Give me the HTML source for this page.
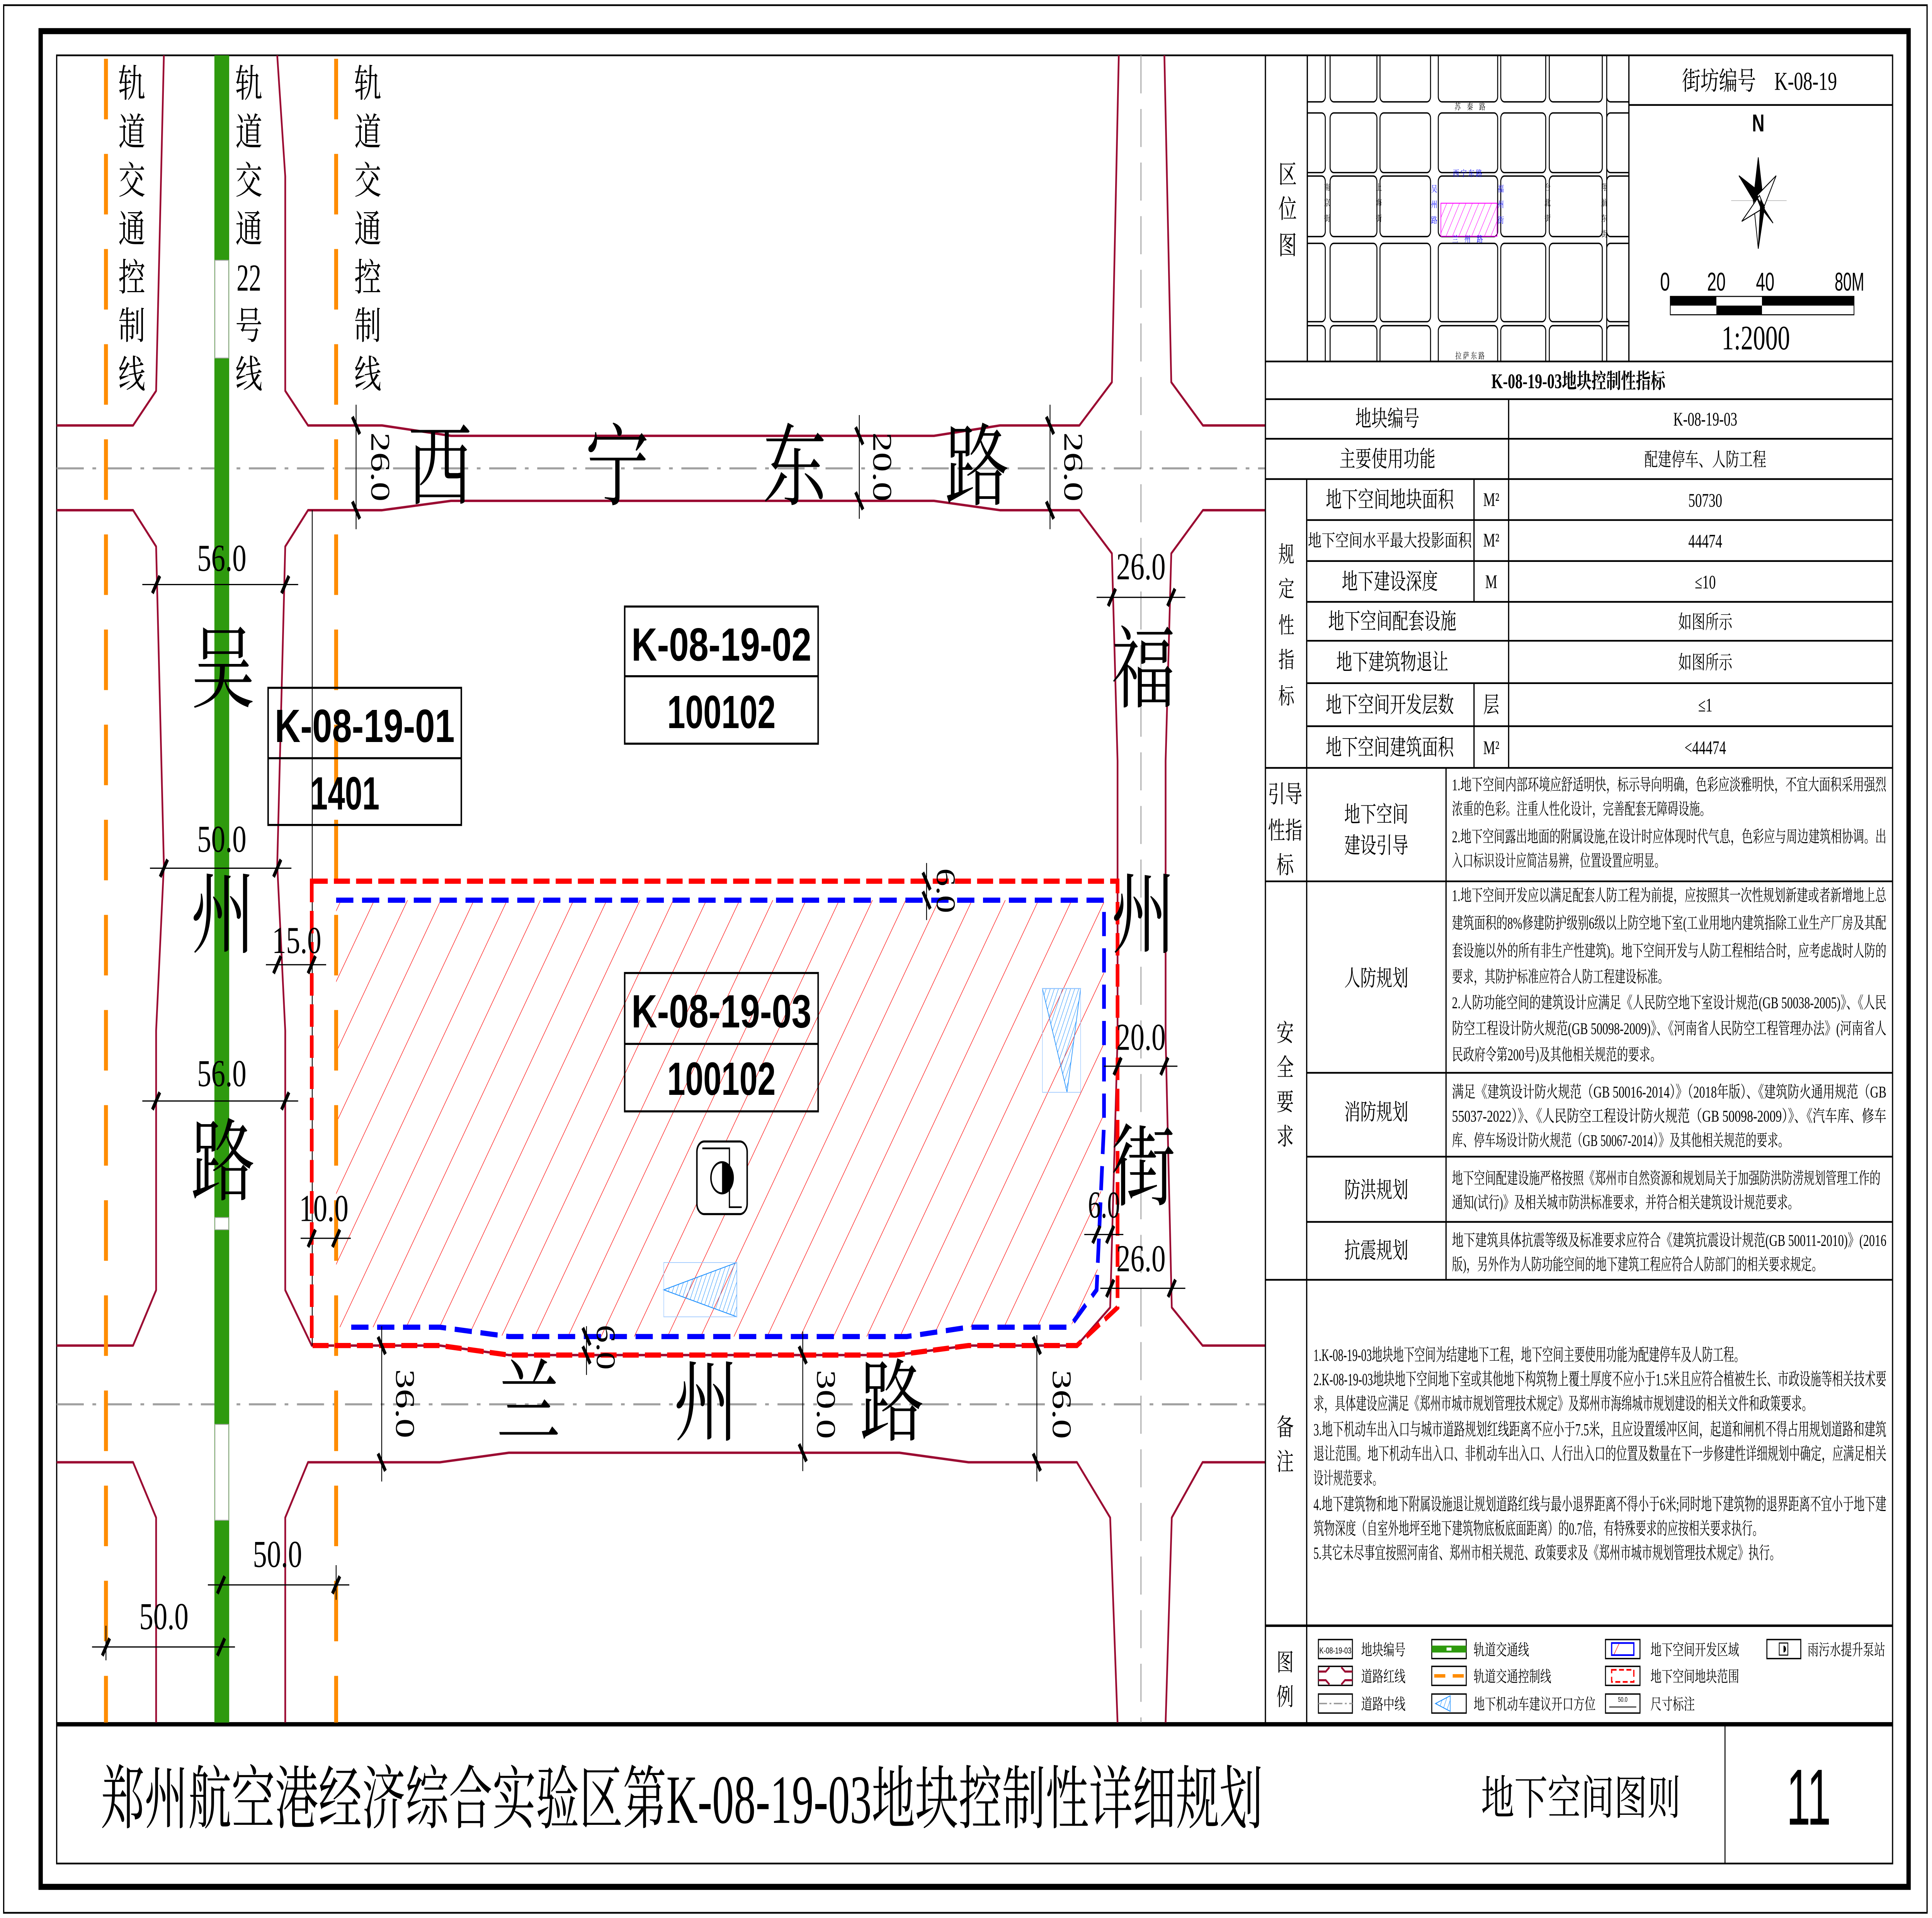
<!DOCTYPE html>
<html><head><meta charset="utf-8"><style>html,body{margin:0;padding:0;background:#fff;overflow:hidden;width:100vw;height:100vh}svg{display:block;width:100vw;height:100vh}
.s{font-family:"Liberation Serif","Noto Serif CJK SC",serif}
.n{font-family:"Liberation Sans","Noto Sans CJK SC",sans-serif}
</style></head><body>
<svg xmlns="http://www.w3.org/2000/svg" viewBox="0 0 1568 1109" preserveAspectRatio="none">
<defs>
<pattern id="hr" patternUnits="userSpaceOnUse" width="22.5" height="10" patternTransform="rotate(33.4)"><line x1="0" y1="0" x2="0" y2="10" stroke="#ff0000" stroke-width="0.7"/></pattern>
<pattern id="hb" patternUnits="userSpaceOnUse" width="3" height="10" patternTransform="rotate(25)"><line x1="0" y1="0" x2="0" y2="10" stroke="#1e90ff" stroke-width="0.6"/></pattern>
<pattern id="hm" patternUnits="userSpaceOnUse" width="4.5" height="10" patternTransform="rotate(30)"><line x1="0" y1="0" x2="0" y2="10" stroke="#ff00ff" stroke-width="0.6"/></pattern>
<clipPath id="cb"><path d="M272.8,520.5 L896,520.5 L896,650 L890,745.8 L868,767.4 L786,767.4 L736,772.8 L413,772.8 L357,767.4 L272.8,767.4 Z"/></clipPath>
<clipPath id="cm"><rect x="1061" y="32" width="261" height="177"/></clipPath>
</defs>
<rect width="1568" height="1109" fill="#fff"/>
<rect x="3" y="3" width="1561" height="1103" fill="none" stroke="#000" stroke-width="1"/>
<rect x="33" y="18" width="1516" height="1073" fill="none" stroke="#000" stroke-width="3.5"/>
<rect x="46" y="32" width="1490" height="1045.5" fill="none" stroke="#000" stroke-width="1"/>
<line x1="46" y1="997" x2="1536" y2="997" stroke="#000" stroke-width="2.5"/>
<line x1="1400" y1="997" x2="1400" y2="1077.5" stroke="#000" stroke-width="0.8"/>

<rect x="270" y="518" width="630" height="258" fill="url(#hr)" clip-path="url(#cb)"/>
<g stroke="#a0a0a0" stroke-width="1.2" fill="none" stroke-dasharray="22 7 3 7">
<line x1="46" y1="270.8" x2="1027" y2="270.8"/>
<line x1="46" y1="812" x2="1027" y2="812"/>
</g>
<line x1="926" y1="32" x2="926" y2="996" stroke="#a0a0a0" stroke-width="0.8" stroke-dasharray="22 9"/>
<g stroke="#9b0b32" stroke-width="1.4" fill="none" stroke-linejoin="round">
<polyline points="133,32 126.7,226 108,246 46,246"/>
<polyline points="225,32 231.5,102 231.5,226 250,246 310,246 366,252 758,252 811.6,246 876,246 902.4,221 908,32"/>
<polyline points="945,32 950.6,221 976.3,246 1027,246"/>
<polyline points="46,295 108,295 126.7,316 133,500 126.7,596 126.7,746 108,778 46,778"/>
<polygon points="250,295 310,295 366,289.6 758,289.6 811.6,295 876,295 902.4,320 907,440 907,600 901,756 874,778 786,778 727,783.5 413,783.5 357,778 253,778 231.5,746 231.5,596 225,500 231.5,316"/>
<polyline points="1027,295 976.3,295 950.6,320 946,440 946,600 951,756 976,778 1027,778"/>
<polyline points="46,845.5 108,845.5 126.7,877.5 126.7,996"/>
<polyline points="231.5,996 231.5,877.5 250,845.5 357,845.5 413,840 730,840 786,845.5 874,845.5 901,877.5 907,996"/>
<polyline points="1027,845.5 976,845.5 951,877.5 946,996"/>
</g>
<line x1="253.4" y1="295" x2="253.4" y2="778" stroke="#000" stroke-width="0.7"/>
<rect x="174" y="32" width="12" height="964" fill="#2e9a0e"/>
<g fill="#fff" stroke="#aaa" stroke-width="0.5">
<rect x="174.5" y="150.5" width="11" height="56.5"/>
<rect x="174.5" y="704" width="11" height="7"/>
<rect x="174.5" y="823.6" width="11" height="55.4"/>
</g>
<g stroke="#ff8c00" stroke-width="3.2" stroke-dasharray="35 20">
<line x1="86" y1="34" x2="86" y2="996"/>
<line x1="272.8" y1="34" x2="272.8" y2="996"/>
</g>
<path d="M253,509.5 L907,509.5 L907,756 L874,778 L786,778 L727,783.5 L413,783.5 L357,778 L253,778 Z" fill="none" stroke="#ff0000" stroke-width="3" stroke-dasharray="13 5"/>
<path d="M272.8,520.5 L896,520.5 L896,650 L890,745.8 L868,767.4 L786,767.4 L736,772.8 L413,772.8 L357,767.4 L281,767.4" fill="none" stroke="#0000ff" stroke-width="3" stroke-dasharray="14 7"/>
<polygon points="846,571.6 877,571.6 866,631.5" fill="url(#hb)" stroke="#1e90ff" stroke-width="0.5"/>
<rect x="846" y="571.6" width="31" height="60" fill="none" stroke="#9cc8ff" stroke-width="0.4"/>
<polygon points="538.7,745.8 598,730 598,761.4" fill="url(#hb)" stroke="#1e90ff" stroke-width="0.5"/>
<rect x="538.7" y="730" width="59.3" height="31.4" fill="none" stroke="#9cc8ff" stroke-width="0.4"/>
<rect x="565.6" y="660" width="40.8" height="42" rx="6" fill="#fff" stroke="#000" stroke-width="1.2"/>
<polyline points="570,664 592,664 592,698 602,698" fill="none" stroke="#000" stroke-width="1"/>
<circle cx="586" cy="681" r="9" fill="#fff" stroke="#000" stroke-width="1.2"/>
<path d="M586,672 A9,9 0 0 1 586,690 Z" fill="#000"/>
<g fill="none" stroke="#000" stroke-width="1.2">
<rect x="507" y="350.7" width="157" height="79.3"/><line x1="507" y1="391" x2="664" y2="391"/>
<rect x="217.6" y="397.7" width="156.8" height="79.3"/><line x1="217.6" y1="438.4" x2="374.4" y2="438.4"/>
<rect x="507" y="562.6" width="157" height="80"/><line x1="507" y1="603.6" x2="664" y2="603.6"/>
</g>
<g class="n" font-weight="bold" font-size="27" text-anchor="middle" fill="#000">
<text x="585.5" y="382" textLength="146" lengthAdjust="spacingAndGlyphs">K-08-19-02</text>
<text x="585.5" y="421" textLength="88" lengthAdjust="spacingAndGlyphs">100102</text>
<text x="296" y="429" textLength="146" lengthAdjust="spacingAndGlyphs">K-08-19-01</text>
<text x="280" y="468" textLength="56" lengthAdjust="spacingAndGlyphs">1401</text>
<text x="585.5" y="594" textLength="146" lengthAdjust="spacingAndGlyphs">K-08-19-03</text>
<text x="585.5" y="633" textLength="88" lengthAdjust="spacingAndGlyphs">100102</text>
</g>
<g class="s" font-size="52" text-anchor="middle" fill="#000">
<text x="357" y="288">西</text><text x="501" y="288">宁</text><text x="645" y="288">东</text><text x="793" y="288">路</text>
<text x="181" y="405">吴</text><text x="181" y="547">州</text><text x="181" y="690">路</text>
<text x="928" y="405">福</text><text x="928" y="547">州</text><text x="928" y="693">街</text>
<text x="429" y="829">兰</text><text x="573" y="829">州</text><text x="724" y="829">路</text>
</g>
<g class="s" font-size="22" text-anchor="middle" fill="#000">
<text x="107" y="56">轨</text><text x="107" y="84">道</text><text x="107" y="112">交</text><text x="107" y="140">通</text><text x="107" y="168">控</text><text x="107" y="196">制</text><text x="107" y="224">线</text>
<text x="202" y="56">轨</text><text x="202" y="84">道</text><text x="202" y="112">交</text><text x="202" y="140">通</text><text x="202" y="168" textLength="20" lengthAdjust="spacingAndGlyphs">22</text><text x="202" y="196">号</text><text x="202" y="224">线</text>
<text x="298.5" y="56">轨</text><text x="298.5" y="84">道</text><text x="298.5" y="112">交</text><text x="298.5" y="140">通</text><text x="298.5" y="168">控</text><text x="298.5" y="196">制</text><text x="298.5" y="224">线</text>
</g>
<g stroke="#000" stroke-width="0.7" fill="none">
<line x1="115.5" y1="338" x2="242" y2="338"/>
<line x1="121.7" y1="502" x2="236.5" y2="502"/>
<line x1="215.8" y1="557.8" x2="264.7" y2="557.8"/>
<line x1="115.5" y1="636.6" x2="242" y2="636.6"/>
<line x1="244" y1="716" x2="284.7" y2="716"/>
<line x1="168.7" y1="916.4" x2="283.5" y2="916.4"/>
<line x1="74.7" y1="952.3" x2="190.7" y2="952.3"/>
<line x1="289" y1="234" x2="289" y2="306"/>
<line x1="697.4" y1="240" x2="697.4" y2="300"/>
<line x1="852.2" y1="234" x2="852.2" y2="306"/>
<line x1="890" y1="345.4" x2="962" y2="345.4"/>
<line x1="752" y1="499" x2="752" y2="532"/>
<line x1="896" y1="616.5" x2="955.6" y2="616.5"/>
<line x1="880" y1="713.8" x2="911.7" y2="713.8"/>
<line x1="893" y1="744.9" x2="962" y2="744.9"/>
<line x1="309.8" y1="766.8" x2="309.8" y2="856.6"/>
<line x1="476" y1="766.8" x2="476" y2="795"/>
<line x1="651.5" y1="769.8" x2="651.5" y2="850.6"/>
<line x1="841.5" y1="772" x2="841.5" y2="856.6"/>
<line x1="86" y1="940" x2="86" y2="960"/>
<line x1="272.8" y1="905" x2="272.8" y2="925"/>
</g>
<g stroke="#000" stroke-width="2.4">
<path d="M123.7,343 L129.7,333 M228.5,343 L234.5,333
M130,507 L136,497 M222,507 L228,497
M222,562.8 L228,552.8 M250,562.8 L256,552.8
M123.7,641.6 L129.7,631.6 M228.5,641.6 L234.5,631.6
M250,721 L256,711 M269.8,721 L275.8,711
M176.4,921.4 L182.4,911.4 M269.8,921.4 L275.8,911.4
M83,957.3 L89,947.3 M176.4,957.3 L182.4,947.3
M899.4,350.4 L905.4,340.4 M947.6,350.4 L953.6,340.4
M904,621.5 L910,611.5 M942,621.5 L948,611.5
M886.8,718.8 L892.8,708.8 M898,718.8 L904,708.8
M898,749.9 L904,739.9 M948,749.9 L954,739.9"/>
<path d="M286,241 L292,251 M286,290 L292,300
M694.4,247 L700.4,257 M694.4,284.6 L700.4,294.6
M849.2,241 L855.2,251 M849.2,290 L855.2,300
M749,504.5 L755,514.5 M749,515.5 L755,525.5
M306.8,773 L312.8,783 M306.8,840.5 L312.8,850.5
M473,767.8 L479,777.8 M473,778.5 L479,788.5
M648.5,778.5 L654.5,788.5 M648.5,835 L654.5,845
M838.5,773 L844.5,783 M838.5,840.5 L844.5,850.5"/>
</g>
<g class="s" font-size="22" fill="#000" text-anchor="middle">
<text x="180" y="330" textLength="40" lengthAdjust="spacingAndGlyphs">56.0</text>
<text x="180" y="492.5" textLength="40" lengthAdjust="spacingAndGlyphs">50.0</text>
<text x="240.8" y="551" textLength="40" lengthAdjust="spacingAndGlyphs">15.0</text>
<text x="180" y="628" textLength="40" lengthAdjust="spacingAndGlyphs">56.0</text>
<text x="262.8" y="706" textLength="40" lengthAdjust="spacingAndGlyphs">10.0</text>
<text x="225.2" y="906" textLength="40" lengthAdjust="spacingAndGlyphs">50.0</text>
<text x="133" y="942" textLength="40" lengthAdjust="spacingAndGlyphs">50.0</text>
<text x="926" y="335" textLength="40" lengthAdjust="spacingAndGlyphs">26.0</text>
<text x="926" y="607" textLength="40" lengthAdjust="spacingAndGlyphs">20.0</text>
<text x="896" y="704" textLength="26" lengthAdjust="spacingAndGlyphs">6.0</text>
<text x="926" y="735" textLength="40" lengthAdjust="spacingAndGlyphs">26.0</text>
<g dominant-baseline="central">
<text transform="translate(308.6,270) rotate(90)" textLength="40" lengthAdjust="spacingAndGlyphs">26.0</text>
<text transform="translate(716,270) rotate(90)" textLength="40" lengthAdjust="spacingAndGlyphs">20.0</text>
<text transform="translate(871,270) rotate(90)" textLength="40" lengthAdjust="spacingAndGlyphs">26.0</text>
<text transform="translate(767.5,515) rotate(90)" textLength="26" lengthAdjust="spacingAndGlyphs">6.0</text>
<text transform="translate(328.6,811.6) rotate(90)" textLength="40" lengthAdjust="spacingAndGlyphs">36.0</text>
<text transform="translate(491.6,779) rotate(90)" textLength="26" lengthAdjust="spacingAndGlyphs">6.0</text>
<text transform="translate(670.3,812) rotate(90)" textLength="40" lengthAdjust="spacingAndGlyphs">30.0</text>
<text transform="translate(861.6,812) rotate(90)" textLength="40" lengthAdjust="spacingAndGlyphs">36.0</text>
</g>
</g>

<g stroke="#000" stroke-width="1" fill="none">
<line x1="1027" y1="32" x2="1027" y2="997"/>
<line x1="1061" y1="32" x2="1061" y2="209"/>
<line x1="1322" y1="32" x2="1322" y2="209"/>
<line x1="1322" y1="60.7" x2="1536" y2="60.7"/>
<line x1="1027" y1="209" x2="1536" y2="209"/>
<line x1="1027" y1="230.8" x2="1536" y2="230.8"/>
<line x1="1027" y1="253.7" x2="1536" y2="253.7"/>
<line x1="1027" y1="277" x2="1536" y2="277"/>
<line x1="1061" y1="300.7" x2="1536" y2="300.7"/>
<line x1="1061" y1="324.4" x2="1536" y2="324.4"/>
<line x1="1061" y1="348" x2="1536" y2="348"/>
<line x1="1061" y1="370.5" x2="1536" y2="370.5"/>
<line x1="1061" y1="395" x2="1536" y2="395"/>
<line x1="1061" y1="419.9" x2="1536" y2="419.9"/>
<line x1="1027" y1="444" x2="1536" y2="444"/>
<line x1="1060.5" y1="277" x2="1060.5" y2="444"/>
<line x1="1224.4" y1="230.8" x2="1224.4" y2="444"/>
<line x1="1196.3" y1="277" x2="1196.3" y2="348"/>
<line x1="1196.3" y1="395" x2="1196.3" y2="444"/>
<line x1="1060.5" y1="444" x2="1060.5" y2="997"/>
<line x1="1173.6" y1="444" x2="1173.6" y2="740"/>
<line x1="1027" y1="509.6" x2="1536" y2="509.6"/>
<line x1="1060.5" y1="620.3" x2="1536" y2="620.3"/>
<line x1="1060.5" y1="668.8" x2="1536" y2="668.8"/>
<line x1="1060.5" y1="706.5" x2="1536" y2="706.5"/>
<line x1="1027" y1="740" x2="1536" y2="740"/>
<line x1="1027" y1="940" x2="1536" y2="940" stroke-width="1.4"/>
</g>
<g clip-path="url(#cm)" fill="none" stroke="#000" stroke-width="0.8">
<g>
<rect x="1050" y="25" width="25.6" height="33.9" rx="3"/><rect x="1079.5" y="25" width="38" height="33.9" rx="3"/><rect x="1120" y="25" width="41" height="33.9" rx="3"/><rect x="1167.3" y="25" width="48.2" height="33.9" rx="3"/><rect x="1218" y="25" width="36.5" height="33.9" rx="3"/><rect x="1257.4" y="25" width="43" height="33.9" rx="3"/><rect x="1304" y="25" width="30" height="33.9" rx="3"/>
<rect x="1050" y="65.3" width="25.6" height="34.5" rx="3"/><rect x="1079.5" y="65.3" width="38" height="34.5" rx="3"/><rect x="1120" y="65.3" width="41" height="34.5" rx="3"/><rect x="1167.3" y="65.3" width="48.2" height="34.5" rx="3"/><rect x="1218" y="65.3" width="36.5" height="34.5" rx="3"/><rect x="1257.4" y="65.3" width="43" height="34.5" rx="3"/><rect x="1304" y="65.3" width="30" height="34.5" rx="3"/>
<rect x="1050" y="101.8" width="25.6" height="35" rx="3"/><rect x="1079.5" y="101.8" width="38" height="35" rx="3"/><rect x="1120" y="101.8" width="41" height="35" rx="3"/><rect x="1167.3" y="101.8" width="48.2" height="35" rx="3"/><rect x="1218" y="101.8" width="36.5" height="35" rx="3"/><rect x="1257.4" y="101.8" width="43" height="35" rx="3"/><rect x="1304" y="101.8" width="30" height="35" rx="3"/>
<rect x="1050" y="140.7" width="25.6" height="45.3" rx="3"/><rect x="1079.5" y="140.7" width="38" height="45.3" rx="3"/><rect x="1120" y="140.7" width="41" height="45.3" rx="3"/><rect x="1167.3" y="140.7" width="48.2" height="45.3" rx="3"/><rect x="1218" y="140.7" width="36.5" height="45.3" rx="3"/><rect x="1257.4" y="140.7" width="43" height="45.3" rx="3"/><rect x="1304" y="140.7" width="30" height="45.3" rx="3"/>
<rect x="1050" y="188.3" width="25.6" height="30" rx="3"/><rect x="1079.5" y="188.3" width="38" height="30" rx="3"/><rect x="1120" y="188.3" width="41" height="30" rx="3"/><rect x="1167.3" y="188.3" width="48.2" height="30" rx="3"/><rect x="1218" y="188.3" width="36.5" height="30" rx="3"/><rect x="1257.4" y="188.3" width="43" height="30" rx="3"/><rect x="1304" y="188.3" width="30" height="30" rx="3"/>
</g>
<line x1="1304" y1="32" x2="1304" y2="209"/>
</g>
<rect x="1169.4" y="117.5" width="45.6" height="19.1" fill="url(#hm)" stroke="#ff00ff" stroke-width="0.5"/>
<g class="s" font-size="5" text-anchor="middle" fill="#000">
<text x="1193" y="63.5">苏　秦　路</text><text x="1193" y="207.5">拉 萨 东 路</text>
<text x="1077" y="110">南</text><text x="1077" y="119">京</text><text x="1077" y="128">街</text>
<text x="1119" y="110">上</text><text x="1119" y="119">海</text><text x="1119" y="128">街</text>
<text x="1256" y="110">台</text><text x="1256" y="119">北</text><text x="1256" y="128">街</text>
<text x="1302" y="110">翔</text><text x="1302" y="119">航</text><text x="1302" y="128">东</text><text x="1302" y="137">街</text>
</g>
<g class="s" font-size="5" text-anchor="middle" fill="#0000ff">
<text x="1191" y="102">西 宁 东 路</text><text x="1191" y="140">兰　州　路</text>
<text x="1164" y="111">吴</text><text x="1164" y="120">州</text><text x="1164" y="129">路</text>
<text x="1218" y="111">福</text><text x="1218" y="120">州</text><text x="1218" y="129">街</text>
</g>
<g class="s" font-size="15" text-anchor="middle" fill="#000">
<text x="1045" y="106">区</text><text x="1045" y="126">位</text><text x="1045" y="147">图</text>
</g>
<text x="1428" y="52" class="s" font-size="15" text-anchor="middle" fill="#000">街坊编号　K-08-19</text>
<text x="1427" y="76" class="n" font-size="14" font-weight="bold" text-anchor="middle" fill="#000">N</text>
<g stroke="#000" stroke-width="0.6">
<line x1="1405" y1="116" x2="1450" y2="116" stroke="#bbb" stroke-width="0.4"/>
<polygon points="1427,91 1431,116 1423,116" fill="#000"/>
<polygon points="1427,143.8 1423,116 1431,116" fill="#fff"/>
<polygon points="1411.3,101.6 1430,112 1426,119" fill="#000"/>
<polygon points="1441.5,101.6 1426,113 1432,119" fill="#fff"/>
<polygon points="1413.6,128 1428,113 1432,120" fill="#fff"/>
<polygon points="1439,129 1425,113 1429,120" fill="#000"/>
<polygon points="1427,143.8 1429,116 1432,120" fill="#000"/>
</g>
<g class="n" font-size="15" text-anchor="middle" fill="#000">
<text x="1351.3" y="168" textLength="8" lengthAdjust="spacingAndGlyphs">0</text>
<text x="1393" y="168" textLength="15" lengthAdjust="spacingAndGlyphs">20</text>
<text x="1432.6" y="168" textLength="15" lengthAdjust="spacingAndGlyphs">40</text>
<text x="1501" y="168" textLength="24" lengthAdjust="spacingAndGlyphs">80M</text>
</g>
<rect x="1355.6" y="171.4" width="149.1" height="10.6" fill="#fff" stroke="#000" stroke-width="0.6"/>
<rect x="1355.6" y="171.4" width="37.4" height="5.3" fill="#000"/>
<rect x="1430" y="171.4" width="74.7" height="5.3" fill="#000"/>
<rect x="1393" y="176.7" width="37" height="5.3" fill="#000"/>
<text x="1425" y="202" class="s" font-size="20" text-anchor="middle" fill="#000">1:2000</text>
<text x="1281" y="224.5" class="s" font-size="12" text-anchor="middle" fill="#000" font-weight="bold">K-08-19-03地块控制性指标</text>
<g class="s" font-size="13" text-anchor="middle" fill="#000">
<text x="1126" y="246.5">地块编号</text>
<text x="1126" y="269.8">主要使用功能</text>
<text x="1128" y="293.3">地下空间地块面积</text>
<text x="1128" y="340.7">地下建设深度</text>
<text x="1130" y="363.7">地下空间配套设施</text>
<text x="1130" y="387.2">地下建筑物退让</text>
<text x="1128" y="411.9">地下空间开发层数</text>
<text x="1128" y="436.5">地下空间建筑面积</text>
<text x="1210.3" y="411.9">层</text>
<text x="1044" y="325">规</text><text x="1044" y="345">定</text><text x="1044" y="366">性</text><text x="1044" y="386">指</text><text x="1044" y="407">标</text>
<text x="1117" y="475.3">地下空间</text><text x="1117" y="493.3">建设引导</text>
<text x="1117" y="570">人防规划</text><text x="1117" y="647.5">消防规划</text><text x="1117" y="692.5">防洪规划</text><text x="1117" y="727.5">抗震规划</text>
</g>
<g class="s" font-size="14" text-anchor="middle" fill="#000">
<text x="1043" y="464">引导</text><text x="1043" y="485">性指</text><text x="1043" y="505">标</text>
<text x="1043" y="602">安</text><text x="1043" y="622">全</text><text x="1043" y="642">要</text><text x="1043" y="662">求</text>
<text x="1043" y="830">备</text><text x="1043" y="850">注</text>
<text x="1043" y="966">图</text><text x="1043" y="986">例</text>
</g>
<text x="1128" y="316" class="s" font-size="10" text-anchor="middle" fill="#000" textLength="133" lengthAdjust="spacingAndGlyphs">地下空间水平最大投影面积</text>
<g class="s" font-size="11" text-anchor="middle" fill="#000">
<text x="1210.3" y="292.5">M²</text><text x="1210.3" y="316">M²</text><text x="1210.3" y="340">M</text><text x="1210.3" y="436">M²</text>
<text x="1384" y="246">K-08-19-03</text>
<text x="1384" y="269.5">配建停车、人防工程</text>
<text x="1384" y="293">50730</text>
<text x="1384" y="316.5">44474</text>
<text x="1384" y="340.2">≤10</text>
<text x="1384" y="363.5">如图所示</text>
<text x="1384" y="386.8">如图所示</text>
<text x="1384" y="411.4">≤1</text>
<text x="1384" y="436">&lt;44474</text>
</g>
<g class="s" font-size="9.5" fill="#000">
<text x="1178.4" y="457" textLength="352.6" lengthAdjust="spacingAndGlyphs">1.地下空间内部环境应舒适明快，标示导向明确，色彩应淡雅明快，不宜大面积采用强烈</text>
<text x="1178.4" y="471" textLength="210" lengthAdjust="spacingAndGlyphs">浓重的色彩。注重人性化设计，完善配套无障碍设施。</text>
<text x="1178.4" y="487" textLength="352.6" lengthAdjust="spacingAndGlyphs">2.地下空间露出地面的附属设施,在设计时应体现时代气息，色彩应与周边建筑相协调。出</text>
<text x="1178.4" y="501" textLength="173" lengthAdjust="spacingAndGlyphs">入口标识设计应简洁易辨，位置设置应明显。</text>
<text x="1178.4" y="521" textLength="352.6" lengthAdjust="spacingAndGlyphs">1.地下空间开发应以满足配套人防工程为前提，应按照其一次性规划新建或者新增地上总</text>
<text x="1178.4" y="537" textLength="352.6" lengthAdjust="spacingAndGlyphs">建筑面积的8%修建防护级别6级以上防空地下室(工业用地内建筑指除工业生产厂房及其配</text>
<text x="1178.4" y="553" textLength="352.6" lengthAdjust="spacingAndGlyphs">套设施以外的所有非生产性建筑)。地下空间开发与人防工程相结合时，应考虑战时人防的</text>
<text x="1178.4" y="568" textLength="176" lengthAdjust="spacingAndGlyphs">要求，其防护标准应符合人防工程建设标准。</text>
<text x="1178.4" y="583" textLength="352.6" lengthAdjust="spacingAndGlyphs">2.人防功能空间的建筑设计应满足《人民防空地下室设计规范(GB 50038-2005)》、《人民</text>
<text x="1178.4" y="598" textLength="352.6" lengthAdjust="spacingAndGlyphs">防空工程设计防火规范(GB 50098-2009)》、《河南省人民防空工程管理办法》(河南省人</text>
<text x="1178.4" y="613" textLength="170" lengthAdjust="spacingAndGlyphs">民政府令第200号)及其他相关规范的要求。</text>
<text x="1178.4" y="634.6" textLength="352.6" lengthAdjust="spacingAndGlyphs">满足《建筑设计防火规范（GB 50016-2014）》（2018年版）、《建筑防火通用规范（GB</text>
<text x="1178.4" y="648.6" textLength="352.6" lengthAdjust="spacingAndGlyphs">55037-2022）》、《人民防空工程设计防火规范（GB 50098-2009）》、《汽车库、修车</text>
<text x="1178.4" y="662.6" textLength="273.6" lengthAdjust="spacingAndGlyphs">库、停车场设计防火规范（GB 50067-2014）》及其他相关规范的要求。</text>
<text x="1178.4" y="684.5" textLength="347.8" lengthAdjust="spacingAndGlyphs">地下空间配建设施严格按照《郑州市自然资源和规划局关于加强防洪防涝规划管理工作的</text>
<text x="1178.4" y="698.5" textLength="281.5" lengthAdjust="spacingAndGlyphs">通知(试行)》及相关城市防洪标准要求，并符合相关建筑设计规范要求。</text>
<text x="1178.4" y="720.4" textLength="352.6" lengthAdjust="spacingAndGlyphs">地下建筑具体抗震等级及标准要求应符合《建筑抗震设计规范(GB 50011-2010)》(2016</text>
<text x="1178.4" y="734.4" textLength="300.8" lengthAdjust="spacingAndGlyphs">版)，另外作为人防功能空间的地下建筑工程应符合人防部门的相关要求规定。</text>
</g>
<g class="s" font-size="10" fill="#000">
<text x="1066" y="786.8" textLength="350" lengthAdjust="spacingAndGlyphs">1.K-08-19-03地块地下空间为结建地下工程，地下空间主要使用功能为配建停车及人防工程。</text>
<text x="1066" y="800.9" textLength="465" lengthAdjust="spacingAndGlyphs">2.K-08-19-03地块地下空间地下室或其他地下构筑物上覆土厚度不应小于1.5米且应符合植被生长、市政设施等相关技术要</text>
<text x="1066" y="815" textLength="405" lengthAdjust="spacingAndGlyphs">求，具体建设应满足《郑州市城市规划管理技术规定》及郑州市海绵城市规划建设的相关文件和政策要求。</text>
<text x="1066" y="829.9" textLength="465" lengthAdjust="spacingAndGlyphs">3.地下机动车出入口与城市道路规划红线距离不应小于7.5米，且应设置缓冲区间，起道和闸机不得占用规划道路和建筑</text>
<text x="1066" y="844" textLength="465" lengthAdjust="spacingAndGlyphs">退让范围。地下机动车出入口、非机动车出入口、人行出入口的位置及数量在下一步修建性详细规划中确定，应满足相关</text>
<text x="1066" y="858.2" textLength="56" lengthAdjust="spacingAndGlyphs">设计规范要求。</text>
<text x="1066" y="873.1" textLength="465" lengthAdjust="spacingAndGlyphs">4.地下建筑物和地下附属设施退让规划道路红线与最小退界距离不得小于6米;同时地下建筑物的退界距离不宜小于地下建</text>
<text x="1066" y="887.2" textLength="365" lengthAdjust="spacingAndGlyphs">筑物深度（自室外地坪至地下建筑物底板底面距离）的0.7倍，有特殊要求的应按相关要求执行。</text>
<text x="1066" y="901.3" textLength="379" lengthAdjust="spacingAndGlyphs">5.其它未尽事宜按照河南省、郑州市相关规范、政策要求及《郑州市城市规划管理技术规定》执行。</text>
</g>
<g fill="none" stroke="#000" stroke-width="0.8">
<rect x="1070" y="948" width="27.6" height="11"/><rect x="1070" y="963.5" width="27.6" height="11"/><rect x="1070" y="979.5" width="27.6" height="11"/>
<rect x="1162" y="948" width="28" height="11"/><rect x="1162" y="963.5" width="28" height="11"/><rect x="1162" y="979.5" width="28" height="11"/>
<rect x="1303" y="948" width="28" height="11"/><rect x="1303" y="963.5" width="28" height="11"/><rect x="1303" y="979.5" width="28" height="11"/>
<rect x="1434" y="948" width="27.5" height="11"/>
</g>
<text x="1083.8" y="956" class="n" font-size="5" text-anchor="middle" fill="#000" textLength="26" lengthAdjust="spacingAndGlyphs">K-08-19-03</text>
<g stroke="#9b0b32" stroke-width="1.2" fill="none">
<polyline points="1070,966.5 1076,966.5 1079,964"/><polyline points="1097.6,966.5 1091.6,966.5 1088.6,964"/>
<polyline points="1070,971.5 1076,971.5 1079,974"/><polyline points="1097.6,971.5 1091.6,971.5 1088.6,974"/>
</g>
<line x1="1070" y1="985" x2="1097.6" y2="985" stroke="#999" stroke-width="0.8" stroke-dasharray="7 2 1.5 2"/>
<rect x="1162" y="951.5" width="28" height="4" fill="#2e9a0e"/><rect x="1174" y="952.6" width="4" height="1.8" fill="#fff"/>
<line x1="1164" y1="969" x2="1188" y2="969" stroke="#ff8c00" stroke-width="2" stroke-dasharray="9 6"/>
<polygon points="1165,985 1177,980.5 1177,989.5" fill="url(#hb)" stroke="#1e90ff" stroke-width="0.5"/>
<rect x="1308" y="950" width="18" height="7" fill="url(#hr)" stroke="#0000ff" stroke-width="1"/>
<rect x="1308" y="965.5" width="18" height="7" fill="none" stroke="#ff0000" stroke-width="1" stroke-dasharray="4 2"/>
<text x="1317" y="984" class="n" font-size="4" text-anchor="middle" fill="#000">50.0</text>
<line x1="1306" y1="987" x2="1328" y2="987" stroke="#000" stroke-width="0.5"/>
<rect x="1444" y="950" width="7" height="7" fill="none" stroke="#000" stroke-width="0.6"/>
<path d="M1447.5,951.5 A2,2 0 0 1 1447.5,955.5 Z" fill="#000"/>
<g class="s" font-size="9" fill="#000">
<text x="1104.7" y="957">地块编号</text><text x="1104.7" y="972.5">道路红线</text><text x="1104.7" y="988.5">道路中线</text>
<text x="1196" y="957">轨道交通线</text><text x="1196" y="972.5">轨道交通控制线</text><text x="1196" y="988.5">地下机动车建议开口方位</text>
<text x="1339.5" y="957">地下空间开发区域</text><text x="1339.5" y="972.5">地下空间地块范围</text><text x="1339.5" y="988.5">尺寸标注</text>
<text x="1467" y="957">雨污水提升泵站</text>
</g>
<text x="82" y="1054" class="s" font-size="40" fill="#000" textLength="943" lengthAdjust="spacingAndGlyphs">郑州航空港经济综合实验区第K-08-19-03地块控制性详细规划</text>
<text x="1283" y="1049" class="s" font-size="27" text-anchor="middle" fill="#000" textLength="162" lengthAdjust="spacingAndGlyphs">地下空间图则</text>
<text x="1468" y="1055" class="n" font-size="46" text-anchor="middle" fill="#000" textLength="36" lengthAdjust="spacingAndGlyphs">11</text>
</svg>
</body></html>
